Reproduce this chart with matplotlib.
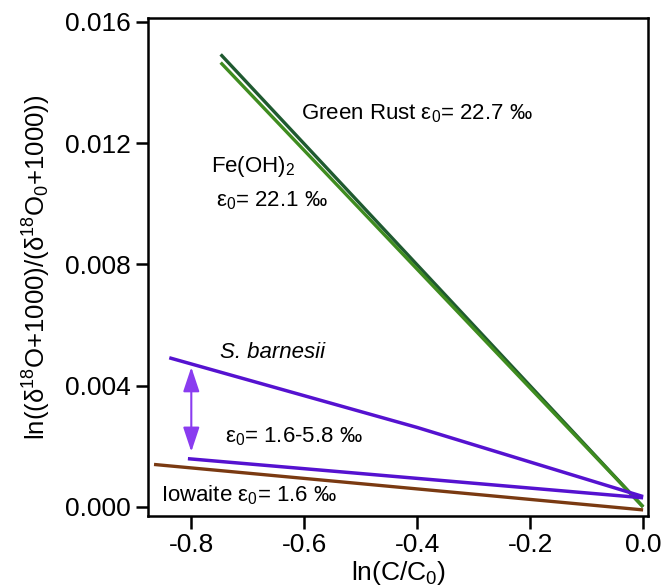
import matplotlib
matplotlib.use("Agg")
import matplotlib.pyplot as plt

plt.rcParams['font.family'] = ['Liberation Sans', 'DejaVu Sans']
plt.rcParams['mathtext.default'] = 'regular'

# Rayleigh fractionation lines, ln(C/C0) vs ln ratio
green_rust_x = [-0.748, 0.0]
green_rust_y = [0.01493, 0.0]
feoh2_x = [-0.748, 0.0]
feoh2_y = [0.01466, 0.0]
sb_high_x = [-0.839, -0.4, 0.0]
sb_high_y = [0.00492, 0.00262, 0.00034]
sb_low_x = [-0.806, 0.0]
sb_low_y = [0.00159, 0.0003]
iowaite_x = [-0.866, 0.0]
iowaite_y = [0.0014, -0.0001]

# range arrow between the two S. barnesii fits
arrow_x = -0.8
arrow_top = 0.00461
arrow_bottom = 0.00182

xticks = [-0.8, -0.6, -0.4, -0.2, 0.0]
yticks = [0.000, 0.004, 0.008, 0.012, 0.016]

fig = plt.figure(figsize=(6.63, 5.87), dpi=100)
ax = fig.add_axes([0.2238, 0.121, 0.7539, 0.8483])

ax.plot(green_rust_x, green_rust_y, color='#1f5a30', lw=2.4, solid_capstyle='butt')
ax.plot(feoh2_x, feoh2_y, color='#3f8c1f', lw=2.4, solid_capstyle='butt')
ax.plot(sb_high_x, sb_high_y, color='#5512d0', lw=2.5, solid_capstyle='butt')
ax.plot(sb_low_x, sb_low_y, color='#5512d0', lw=2.5, solid_capstyle='butt')
ax.plot(iowaite_x, iowaite_y, color='#7a3a12', lw=2.4, solid_capstyle='butt')

ax.annotate('', xy=(arrow_x, arrow_top), xytext=(arrow_x, arrow_bottom),
            arrowprops=dict(arrowstyle='<|-|>,head_length=1.5,head_width=0.5',
                            color='#8a3cf0', lw=1.5, shrinkA=0, shrinkB=0))

fs = 16
ax.text(-0.606, 0.01298, 'Green Rust $ε_0$= 22.7 ‰', fontsize=fs, va='center')
ax.text(-0.766, 0.01124, 'Fe(OH)$_2$', fontsize=fs, va='center')
ax.text(-0.757, 0.01009, '$ε_0$= 22.1 ‰', fontsize=fs, va='center')
ax.text(-0.7495, 0.00509, 'S. barnesii', fontsize=fs, va='center', style='italic')
ax.text(-0.741, 0.0023, '$ε_0$= 1.6-5.8 ‰', fontsize=fs, va='center')
ax.text(-0.853, 0.00039, 'Iowaite $ε_0$= 1.6 ‰', fontsize=fs, va='center')

ax.set_xlim(-0.876, 0.009)
ax.set_ylim(-0.0003, 0.01613)
ax.set_xticks(xticks)
ax.set_xticklabels(['%.1f' % v for v in xticks])
ax.set_yticks(yticks)
ax.set_yticklabels(['%.3f' % v for v in yticks])
ax.tick_params(labelsize=19, width=1.8, length=9, direction='out')
for s in ax.spines.values():
    s.set_linewidth(1.8)

ax.set_xlabel('ln(C/C$_0$)', fontsize=19, labelpad=1)
ax.set_ylabel('ln((δ$^{18}$O+1000)/(δ$^{18}$O$_0$+1000))', fontsize=18.5, labelpad=9)

fig.savefig('out.png', dpi=100)
